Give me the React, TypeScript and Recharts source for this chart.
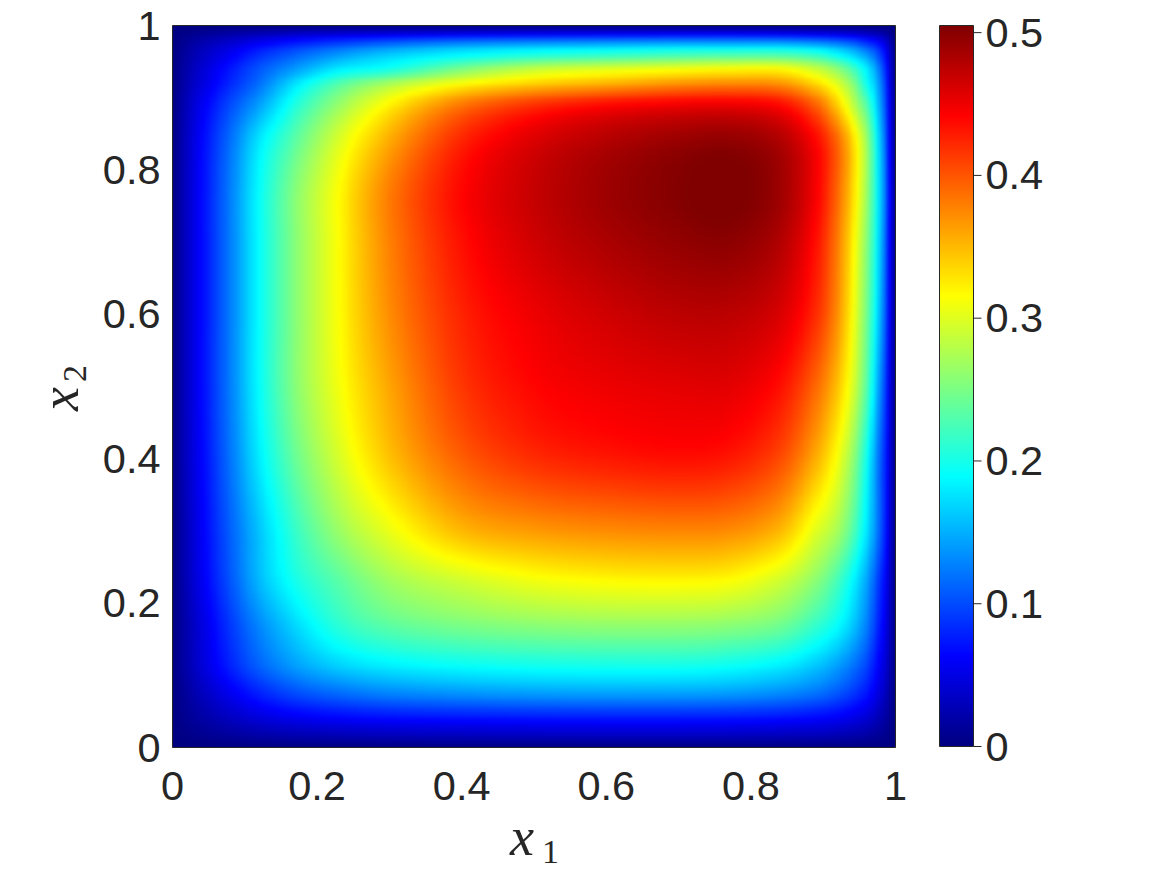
import { Bar, BarChart, ReferenceArea, Scatter, ScatterChart, XAxis, YAxis } from 'recharts';

// grid nodes of the field, denser near the walls where it changes fast
const x1Nodes = [0, 0.02, 0.04, 0.08, 0.12, 0.17, 0.23, 0.3, 0.4, 0.5, 0.6, 0.7, 0.77, 0.84, 0.89, 0.92, 0.945, 0.96, 0.975, 0.99, 1];
const x2Nodes = [0, 0.02, 0.04, 0.08, 0.113, 0.17, 0.235, 0.3, 0.4, 0.5, 0.6, 0.7, 0.77, 0.84, 0.89, 0.92, 0.94, 0.957, 0.973, 0.988, 1];

// one row of values per x2 node
const row000 = [0, 0, 0, 0, 0, 0, 0, 0, 0, 0, 0, 0, 0, 0, 0, 0, 0, 0, 0, 0, 0];
const row002 = [0, 0.005, 0.009, 0.016, 0.022, 0.027, 0.03, 0.033, 0.035, 0.036, 0.037, 0.037, 0.036, 0.034, 0.032, 0.029, 0.024, 0.02, 0.014, 0.006, 0];
const row004 = [0, 0.009, 0.017, 0.031, 0.043, 0.053, 0.06, 0.065, 0.068, 0.07, 0.071, 0.071, 0.07, 0.067, 0.062, 0.056, 0.047, 0.04, 0.028, 0.012, 0];
const row008 = [0, 0.016, 0.031, 0.058, 0.082, 0.105, 0.122, 0.135, 0.143, 0.148, 0.15, 0.15, 0.147, 0.138, 0.125, 0.11, 0.09, 0.075, 0.052, 0.023, 0];
const row011 = [0, 0.022, 0.042, 0.078, 0.11, 0.14, 0.165, 0.18, 0.19, 0.195, 0.197, 0.197, 0.192, 0.18, 0.16, 0.14, 0.115, 0.095, 0.065, 0.03, 0];
const row017 = [0, 0.024, 0.046, 0.09, 0.13, 0.17, 0.21, 0.235, 0.25, 0.258, 0.262, 0.262, 0.258, 0.245, 0.215, 0.19, 0.155, 0.125, 0.085, 0.038, 0];
const row023 = [0, 0.029, 0.055, 0.105, 0.155, 0.2, 0.235, 0.27, 0.295, 0.312, 0.32, 0.322, 0.318, 0.295, 0.26, 0.225, 0.18, 0.145, 0.1, 0.045, 0];
const row030 = [0, 0.03, 0.058, 0.11, 0.16, 0.215, 0.265, 0.305, 0.35, 0.365, 0.372, 0.375, 0.372, 0.35, 0.3, 0.27, 0.22, 0.175, 0.125, 0.055, 0];
const row040 = [0, 0.034, 0.062, 0.12, 0.18, 0.24, 0.295, 0.345, 0.395, 0.42, 0.43, 0.435, 0.43, 0.405, 0.355, 0.31, 0.25, 0.195, 0.13, 0.058, 0];
const row050 = [0, 0.035, 0.065, 0.125, 0.19, 0.255, 0.31, 0.36, 0.415, 0.44, 0.45, 0.455, 0.455, 0.435, 0.39, 0.345, 0.285, 0.23, 0.155, 0.065, 0];
const row060 = [0, 0.035, 0.065, 0.125, 0.19, 0.255, 0.315, 0.372, 0.425, 0.45, 0.465, 0.475, 0.475, 0.46, 0.42, 0.37, 0.3, 0.245, 0.175, 0.075, 0];
const row070 = [0, 0.035, 0.065, 0.125, 0.19, 0.255, 0.316, 0.378, 0.435, 0.465, 0.483, 0.495, 0.498, 0.48, 0.435, 0.38, 0.31, 0.255, 0.185, 0.08, 0];
const row077 = [0, 0.035, 0.065, 0.125, 0.19, 0.255, 0.316, 0.38, 0.44, 0.47, 0.49, 0.503, 0.508, 0.49, 0.445, 0.39, 0.322, 0.265, 0.19, 0.085, 0];
const row084 = [0, 0.034, 0.063, 0.118, 0.178, 0.235, 0.298, 0.358, 0.425, 0.46, 0.48, 0.493, 0.497, 0.482, 0.44, 0.39, 0.322, 0.265, 0.185, 0.08, 0];
const row089 = [0, 0.03, 0.055, 0.1, 0.143, 0.205, 0.265, 0.322, 0.385, 0.42, 0.44, 0.45, 0.452, 0.44, 0.395, 0.34, 0.275, 0.23, 0.165, 0.072, 0];
const row092 = [0, 0.025, 0.045, 0.082, 0.118, 0.175, 0.23, 0.272, 0.315, 0.34, 0.355, 0.37, 0.375, 0.37, 0.335, 0.298, 0.245, 0.195, 0.15, 0.065, 0];
const row094 = [0, 0.022, 0.04, 0.073, 0.105, 0.14, 0.18, 0.2, 0.25, 0.285, 0.3, 0.31, 0.316, 0.316, 0.288, 0.258, 0.215, 0.18, 0.135, 0.058, 0];
const row096 = [0, 0.018, 0.033, 0.06, 0.088, 0.115, 0.145, 0.17, 0.195, 0.215, 0.225, 0.235, 0.24, 0.24, 0.225, 0.2, 0.17, 0.145, 0.11, 0.05, 0];
const row097 = [0, 0.014, 0.026, 0.045, 0.065, 0.085, 0.105, 0.125, 0.145, 0.155, 0.16, 0.165, 0.165, 0.165, 0.155, 0.14, 0.12, 0.1, 0.08, 0.038, 0];
const row099 = [0, 0.006, 0.012, 0.022, 0.03, 0.04, 0.048, 0.054, 0.06, 0.064, 0.066, 0.067, 0.067, 0.065, 0.06, 0.055, 0.048, 0.04, 0.032, 0.016, 0];
const row100 = [0, 0, 0, 0, 0, 0, 0, 0, 0, 0, 0, 0, 0, 0, 0, 0, 0, 0, 0, 0, 0];

const field = [
  row000, row002, row004, row008, row011, row017, row023, row030, row040, row050, row060,
  row070, row077, row084, row089, row092, row094, row096, row097, row099, row100,
];

const axisTicks = [0, 0.2, 0.4, 0.6, 0.8, 1];
const colorbarTicks = [0, 0.1, 0.2, 0.3, 0.4, 0.5];
const colorMax = 0.505;
const boxCorners = [
  { x: 0, y: 0 },
  { x: 1, y: 1 },
];

// matlab jet
const jetOffsets = [0, 0.125, 0.375, 0.625, 0.875, 1];
const jetColors = ['#00007f', '#0000ff', '#00ffff', '#ffff00', '#ff0000', '#7f0000'];

const PLOT_W = 723;
const PLOT_H = 722;
const STEP = 4;
const BLEED = 10;
const INK = '#262626';

const clamp = (v: number) => Math.min(1, Math.max(0, v));

function jet(value: number) {
  const t = clamp(value / colorMax);
  const r = clamp(1.5 - Math.abs(4 * t - 3));
  const g = clamp(1.5 - Math.abs(4 * t - 2));
  const b = clamp(1.5 - Math.abs(4 * t - 1));
  return `rgb(${Math.round(r * 255)},${Math.round(g * 255)},${Math.round(b * 255)})`;
}

const cells: { x: number; y: number; i: number; j: number }[] = [];
x2Nodes.slice(0, -1).forEach((y, j) => {
  x1Nodes.slice(0, -1).forEach((x, i) => {
    cells.push({ x, y, i, j });
  });
});

// cubic through one line of nodes, k is the left node and u runs 0..1 across the interval
function hermite(nodes: number[], vals: number[], k: number, u: number) {
  const h = nodes[k + 1] - nodes[k];
  const lo = Math.max(0, k - 1);
  const hi = Math.min(nodes.length - 1, k + 2);
  const m0 = ((vals[k + 1] - vals[lo]) / (nodes[k + 1] - nodes[lo])) * h;
  const m1 = ((vals[hi] - vals[k]) / (nodes[hi] - nodes[k])) * h;
  const u2 = u * u;
  const u3 = u2 * u;
  return (2 * u3 - 3 * u2 + 1) * vals[k] + (u3 - 2 * u2 + u) * m0 + (-2 * u3 + 3 * u2) * vals[k + 1] + (u3 - u2) * m1;
}

// like shading interp: each cell is filled smoothly from the surrounding nodes
function HeatCell(props: any) {
  const { cx, cy, payload } = props;
  const { i, j } = payload;
  const w = (x1Nodes[i + 1] - x1Nodes[i]) * PLOT_W;
  const h = (x2Nodes[j + 1] - x2Nodes[j]) * PLOT_H;
  const nx = Math.max(1, Math.ceil(w / STEP));
  const ny = Math.max(1, Math.ceil(h / STEP));
  const rects = [];
  for (let a = 0; a < nx; a++) {
    const u = (a + 0.5) / nx;
    const column = field.map((row) => hermite(x1Nodes, row, i, u));
    // the outer cells bleed past the plot so the blur has something to eat at the edge
    const left = i === 0 && a === 0 ? BLEED : 0;
    const right = i === x1Nodes.length - 2 && a === nx - 1 ? BLEED : 0;
    for (let b = 0; b < ny; b++) {
      const value = hermite(x2Nodes, column, j, (b + 0.5) / ny);
      const top = j === x2Nodes.length - 2 && b === ny - 1 ? BLEED : 0;
      const bottom = j === 0 && b === 0 ? BLEED : 0;
      rects.push(
        <rect
          key={`${a}-${b}`}
          x={cx + (a * w) / nx - left}
          y={cy - ((b + 1) * h) / ny - top}
          width={w / nx + 0.6 + left + right}
          height={h / ny + 0.6 + top + bottom}
          fill={jet(value)}
        />,
      );
    }
  }
  return <g shapeRendering="crispEdges">{rects}</g>;
}

function NoMark() {
  return <g />;
}

function BottomTick({ x, y, payload }: any) {
  return (
    <text x={x} y={y + 44} textAnchor="middle" fontSize={41.5} fill={INK} fontFamily="Liberation Sans">
      {payload.value}
    </text>
  );
}

function LeftTick({ x, y, payload }: any) {
  return (
    <text x={x - 4} y={y + 14} textAnchor="end" fontSize={41.5} fill={INK} fontFamily="Liberation Sans">
      {payload.value}
    </text>
  );
}

function ColorbarTick({ x, y, payload }: any) {
  return (
    <g>
      <line x1={x - 8} x2={x} y1={y} y2={y} stroke={INK} strokeWidth={1} />
      <text x={x + 4} y={y + 14} textAnchor="start" fontSize={41.5} fill={INK} fontFamily="Liberation Sans">
        {payload.value}
      </text>
    </g>
  );
}

const symbolFont = { fontFamily: 'Liberation Serif', fill: INK };

function X1Label() {
  return (
    <text x={510} y={855} {...symbolFont} fontSize={54} fontStyle="italic">
      x
      <tspan dx={8} dy={8} fontSize={34} fontStyle="normal">
        1
      </tspan>
    </text>
  );
}

function X2Label() {
  return (
    <text transform="translate(78,411) rotate(-90)" {...symbolFont} fontSize={54} fontStyle="italic">
      x
      <tspan dx={5} dy={8} fontSize={34} fontStyle="normal">
        2
      </tspan>
    </text>
  );
}

export default function App() {
  return (
    <div style={{ position: 'absolute', left: 0, top: 0, width: 1167, height: 875, background: '#fff' }}>
      <style>{`.heat-layer .recharts-scatter { filter: url(#smooth); }`}</style>
      <svg width={0} height={0} style={{ position: 'absolute' }}>
        <defs>
          <filter
            id="smooth"
            filterUnits="userSpaceOnUse"
            x={172.5 - BLEED}
            y={25.5 - BLEED}
            width={PLOT_W + 2 * BLEED}
            height={PLOT_H + 2 * BLEED}
            colorInterpolationFilters="sRGB"
          >
            <feGaussianBlur stdDeviation={1.6} />
          </filter>
          <linearGradient id="jetBar" x1="0" y1="1" x2="0" y2="0">
            {jetOffsets.map((offset, k) => (
              <stop key={offset} offset={offset} stopColor={jetColors[k]} />
            ))}
          </linearGradient>
        </defs>
      </svg>

      {/* the field alone, clipped to the plot box */}
      <div
        className="heat-layer"
        style={{
          position: 'absolute',
          left: 0,
          top: 0,
          width: 1167,
          height: 875,
          clipPath: 'inset(25.5px 271.5px 127.5px 172.5px)',
        }}
      >
        <ScatterChart width={1167} height={875} margin={{ left: 172.5, top: 25.5, right: 271.5, bottom: 127.5 }}>
          <XAxis type="number" dataKey="x" domain={[0, 1]} hide />
          <YAxis type="number" dataKey="y" domain={[0, 1]} hide />
          <Scatter data={cells} shape={<HeatCell />} isAnimationActive={false} />
        </ScatterChart>
      </div>

      {/* axes and box on their own layer so the cells can't cover them */}
      <div style={{ position: 'absolute', left: 0, top: 0 }}>
        <ScatterChart width={1167} height={875} margin={{ left: 112.5, top: 25.5, right: 271.5, bottom: 67.5 }}>
          <XAxis
            type="number"
            dataKey="x"
            domain={[0, 1]}
            ticks={axisTicks}
            height={60}
            axisLine={false}
            tickLine={false}
            tick={<BottomTick />}
            label={<X1Label />}
          />
          <YAxis
            type="number"
            dataKey="y"
            domain={[0, 1]}
            ticks={axisTicks}
            width={60}
            axisLine={false}
            tickLine={false}
            tick={<LeftTick />}
            label={<X2Label />}
          />
          <Scatter data={boxCorners} shape={<NoMark />} isAnimationActive={false} />
          <ReferenceArea x1={0} x2={1} y1={0} y2={1} fill="none" stroke={INK} strokeWidth={1} />
        </ScatterChart>
      </div>

      <div style={{ position: 'absolute', left: 0, top: 0 }}>
        <BarChart
          width={1167}
          height={875}
          data={[{ name: 'scale', value: colorMax }]}
          margin={{ left: 939.5, top: 25.5, right: 133.5, bottom: 128.5 }}
          barCategoryGap={0}
        >
          <XAxis dataKey="name" hide />
          <YAxis
            orientation="right"
            type="number"
            domain={[0, colorMax]}
            ticks={colorbarTicks}
            width={60}
            axisLine={false}
            tickLine={false}
            tick={<ColorbarTick />}
          />
          <Bar dataKey="value" fill="url(#jetBar)" stroke={INK} strokeWidth={1} isAnimationActive={false} />
        </BarChart>
      </div>
    </div>
  );
}
